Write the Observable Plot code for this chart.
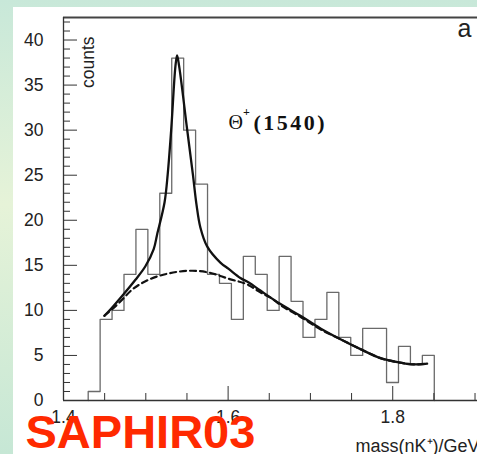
<!DOCTYPE html>
<html><head><meta charset="utf-8">
<script src="https://cdn.jsdelivr.net/npm/d3@7"></script>
<script src="https://cdn.jsdelivr.net/npm/@observablehq/plot@0.6"></script>
<style>
html,body{margin:0;padding:0;}
body{width:477px;height:454px;overflow:hidden;position:relative;
 background:linear-gradient(to bottom,#c8e8d9 0%,#e6f3d8 45%,#c6e7d5 100%);}
#panel{position:absolute;left:13px;top:7px;width:464px;height:447px;background:#fff;}
#panel svg{display:block;}
</style></head><body><div id="panel"></div>
<script>
// Histogram (counts per bin)
const binStart = 1.43;
const binWidth = 0.0145;
const counts = [1,9,10,14,19,14,23,38,30,24,14,13,9,16,14,10,16,11,7,9,12,7,5,8,8,2,6,4,5];

// Fit (signal + background)
const fitX = [1.4497,1.4530,1.4712,1.4874,1.4995,1.5096,1.5137,1.5228,1.5266,1.5309,1.5360,1.5380,1.5405,1.5502,1.5572,1.5615,1.5663,1.5745,1.5906,1.6007,1.6149,1.6250,1.6392,1.6636,1.6878,1.7122,1.7365,1.7608,1.7851,1.8094,1.8255,1.8418];
const fitY = [9.4,9.7,11.6,13.4,14.9,16.8,18.4,22.0,25.1,30.1,37.1,38.3,37.1,30.1,25.1,21.8,19.2,17.1,15.3,14.6,13.6,13.1,12.2,10.7,9.4,8.0,6.8,5.7,4.7,4.2,4.0,4.1];

// Background only (dashed)
const bgX = [1.4497,1.4671,1.4834,1.5035,1.5278,1.5563,1.5764,1.6007,1.6250,1.6392,1.6535,1.6636,1.6878,1.7122,1.7365,1.7608,1.7851,1.8094,1.8255,1.8418];
const bgY = [9.4,10.8,12.3,13.4,14.1,14.4,14.2,13.5,12.8,12.0,11.3,10.6,9.3,7.9,6.8,5.7,4.7,4.2,4.0,4.1];

// Axes
const yTickLabels = [0,5,10,15,20,25,30,35,40];
const yMinorTicks = [1,2,3,4,6,7,8,9,11,12,13,14,16,17,18,19,21,22,23,24,26,27,28,29,31,32,33,34,36,37,38,39,41,42];
const xTickLabels = [1.4,1.6,1.8];
const xMinorTicks = [1.45,1.5,1.55,1.65,1.7,1.75,1.85,1.9];
const xDomain = [1.4, 1.903];
const yDomain = [0, 42.5];

// Texts
const yTitle = "counts";
const xTitle = "mass(nK\u207A)/GeV";
const panelLabel = "a";
const peakSymbol = "\u0398";
const peakCharge = "+";
const peakMass = "(1540)";
const stamp = "SAPHIR03";

const hist = [{x: binStart, y: 0}];
counts.forEach((c, i) => {
  hist.push({x: binStart + i * binWidth, y: c});
  hist.push({x: binStart + (i + 1) * binWidth, y: c});
});
hist.push({x: binStart + counts.length * binWidth, y: 0});
const fit = fitX.map((x, i) => ({x, y: fitY[i]}));
const bg = bgX.map((x, i) => ({x, y: bgY[i]}));

const sans = "'Liberation Sans', Arial, Helvetica, sans-serif";
const serif = "'Liberation Serif', 'Times New Roman', serif";

const plot = Plot.plot({
  width: 464, height: 447,
  marginLeft: 50, marginRight: 0, marginTop: 10, marginBottom: 54,
  x: {domain: xDomain},
  y: {domain: yDomain},
  style: {fontFamily: sans, fontSize: "17.5px", color: "#222", background: "#fff"},
  marks: [
    Plot.line(hist, {x: "x", y: "y", stroke: "#6a6a6a", strokeWidth: 1.3}),
    Plot.line(bg, {x: "x", y: "y", stroke: "#111", strokeWidth: 2.2, strokeDasharray: "6,4", curve: "monotone-x"}),
    Plot.line(fit, {x: "x", y: "y", stroke: "#111", strokeWidth: 2.3, curve: "catmull-rom"}),
    Plot.ruleY([yDomain[0]], {stroke: "#333", strokeWidth: 1.3}),
    Plot.ruleY([yDomain[1]], {stroke: "#444", strokeWidth: 1.8}),
    Plot.ruleX([xDomain[0]], {stroke: "#333", strokeWidth: 1.3}),
    Plot.tickY(yMinorTicks, {y: d => d, insetRight: 407, stroke: "#333"}),
    Plot.tickY(yTickLabels, {y: d => d, insetRight: 400, stroke: "#333"}),
    Plot.tickX(xMinorTicks, {x: d => d, insetTop: 376, stroke: "#333"}),
    Plot.tickX(xTickLabels, {x: d => d, insetTop: 369, stroke: "#333"}),
    Plot.axisY({ticks: yTickLabels, tickSize: 0, tickPadding: 20, label: null, fontSize: 17.5}),
    Plot.axisX({ticks: xTickLabels, tickSize: 0, tickPadding: 10, label: null, fontSize: 17.5, tickFormat: d => d.toFixed(1)}),
    Plot.text([yTitle], {text: d => d, frameAnchor: "top-left", lineAnchor: "middle", dx: 24.5, dy: 19, rotate: -90, textAnchor: "end", fontSize: 17.5, fill: "#222"}),
    Plot.text([panelLabel], {text: d => d, frameAnchor: "top-right", lineAnchor: "middle", dx: -20, dy: 11, textAnchor: "start", fontSize: 25, fill: "#222"}),
    Plot.text([peakSymbol], {text: d => d, frameAnchor: "top-left", lineAnchor: "middle", dx: 165, dy: 105, textAnchor: "start", fontSize: 20, fontFamily: serif, fill: "#111"}),
    Plot.text([peakCharge], {text: d => d, frameAnchor: "top-left", lineAnchor: "middle", dx: 179.5, dy: 95, textAnchor: "start", fontSize: 12, fontFamily: serif, fontWeight: "bold", fill: "#111"}),
    Plot.text([peakMass], {text: d => d, frameAnchor: "top-left", lineAnchor: "middle", dx: 190, dy: 105.5, textAnchor: "start", fontSize: 22, fontFamily: serif, fontWeight: "bold", fill: "#111"}),
    Plot.text([xTitle], {text: d => d, frameAnchor: "bottom-left", lineAnchor: "middle", dx: 292, dy: 45.5, textAnchor: "start", fontSize: 18, fill: "#222"}),
    Plot.text([stamp], {text: d => d, frameAnchor: "bottom-left", lineAnchor: "middle", dx: -38, dy: 32.5, textAnchor: "start", fontSize: 47, fontWeight: "bold", fill: "#ff2a00"})
  ]
});
d3.select(plot).selectAll("text").filter(function() { return this.textContent === peakMass; }).attr("letter-spacing", "2.5px");
document.getElementById("panel").appendChild(plot);
</script>
</body></html>
